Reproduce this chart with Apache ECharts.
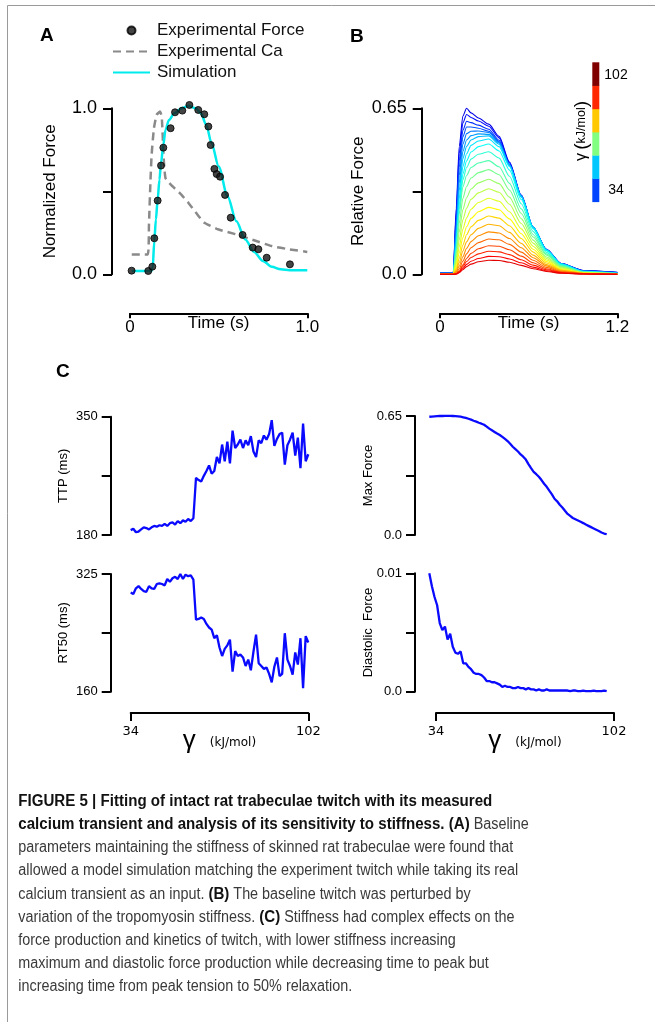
<!DOCTYPE html>
<html><head><meta charset="utf-8">
<script src="https://cdn.jsdelivr.net/npm/echarts@6/dist/echarts.min.js"></script>
<style>html,body{margin:0;padding:0;background:#fff}#c{width:655px;height:1022px}</style>
</head><body><div id="c"></div>
<script>
// ---------- Panel A data ----------
const forceT = [0.009,0.103,0.126,0.137,0.156,0.175,0.188,0.229,0.254,0.295,0.335,0.385,0.419,0.442,0.455,0.476,0.489,0.508,0.536,0.568,0.635,0.692,0.724,0.771,0.902];
const forceV = [0.022,0.02,0.046,0.217,0.444,0.655,0.763,0.88,0.976,0.986,1.02,0.99,0.964,0.89,0.779,0.635,0.604,0.588,0.478,0.341,0.237,0.161,0.151,0.1,0.06];
const caT = [0.01,0.1,0.107,0.115,0.122,0.135,0.15,0.169,0.179,0.19,0.2,0.23,0.28,0.33,0.38,0.42,0.5,0.6,0.7,0.8,0.9,1.0];
const caV = [0.12,0.12,0.3,0.55,0.72,0.88,0.96,0.98,0.95,0.7,0.58,0.54,0.49,0.43,0.36,0.31,0.27,0.24,0.205,0.17,0.15,0.135];
const simT = [0.01,0.12,0.128,0.137,0.146,0.156,0.166,0.175,0.188,0.2,0.22,0.25,0.29,0.33,0.37,0.4,0.43,0.46,0.5,0.55,0.6,0.65,0.7,0.75,0.8,0.85,0.9,1.0];
const simV = [0.02,0.02,0.04,0.2,0.33,0.45,0.57,0.67,0.78,0.87,0.93,0.97,1.0,1.015,1.0,0.97,0.9,0.79,0.65,0.47,0.32,0.21,0.135,0.08,0.045,0.03,0.025,0.025];

// ---------- Panel B data ----------
const bTime = [0,0.09,0.11,0.13,0.155,0.18,0.21,0.26,0.33,0.4,0.47,0.55,0.63,0.72,0.82,0.97,1.2];
const bGamma = [34,37,40,43,46,49,52,55,58,61,64,67,70,73,76,79,82,85,88,91,94,97,100,102];
const b34 = [0.007,0.008,0.26,0.50,0.62,0.650,0.632,0.612,0.588,0.540,0.440,0.310,0.185,0.098,0.042,0.015,0.008];
const b37 = [0.0065,0.007,0.242,0.473,0.593,0.626,0.614,0.600,0.580,0.534,0.437,0.309,0.185,0.098,0.042,0.015,0.007];
const b40 = [0.006,0.0064,0.223,0.444,0.564,0.599,0.594,0.584,0.568,0.525,0.432,0.306,0.183,0.097,0.041,0.014,0.007];
const b43 = [0.005,0.006,0.206,0.419,0.539,0.577,0.577,0.572,0.560,0.520,0.428,0.304,0.183,0.096,0.041,0.013,0.006];
const b46 = [0.005,0.005,0.184,0.387,0.510,0.551,0.560,0.561,0.555,0.517,0.428,0.305,0.184,0.096,0.041,0.013,0.005];
const b49 = [0.004,0.004,0.163,0.357,0.481,0.526,0.543,0.550,0.548,0.514,0.428,0.306,0.185,0.096,0.040,0.012,0.005];
const b52 = [0.003,0.003,0.143,0.327,0.453,0.501,0.526,0.539,0.542,0.509,0.427,0.306,0.185,0.096,0.041,0.012,0.004];
const b55 = [0.0025,0.0026,0.123,0.296,0.422,0.472,0.505,0.522,0.530,0.500,0.422,0.302,0.184,0.095,0.040,0.011,0.004];
const b58 = [0.002,0.002,0.107,0.270,0.393,0.444,0.479,0.500,0.510,0.483,0.408,0.293,0.179,0.092,0.038,0.010,0.003];
const b61 = [0.002,0.002,0.101,0.254,0.370,0.418,0.451,0.470,0.480,0.455,0.384,0.276,0.168,0.086,0.036,0.010,0.003];
const b64 = [0.002,0.002,0.093,0.236,0.343,0.387,0.418,0.436,0.445,0.421,0.356,0.256,0.156,0.080,0.033,0.009,0.003];
const b67 = [0.0015,0.0015,0.078,0.200,0.298,0.344,0.377,0.398,0.410,0.390,0.330,0.238,0.146,0.075,0.031,0.008,0.002];
const b70 = [0.001,0.001,0.064,0.166,0.254,0.300,0.334,0.358,0.372,0.355,0.302,0.218,0.134,0.068,0.028,0.007,0.002];
const b73 = [0.001,0.001,0.051,0.135,0.214,0.259,0.294,0.319,0.335,0.321,0.274,0.199,0.122,0.062,0.025,0.006,0.001];
const b76 = [0.001,0.001,0.040,0.108,0.177,0.221,0.255,0.281,0.298,0.286,0.245,0.178,0.110,0.056,0.022,0.006,0.001];
const b79 = [0.0005,0.0005,0.030,0.084,0.144,0.186,0.219,0.245,0.262,0.253,0.217,0.159,0.098,0.050,0.019,0.005,0.001];
const b82 = [0.0004,0.0004,0.022,0.063,0.115,0.155,0.186,0.211,0.228,0.220,0.190,0.140,0.087,0.044,0.017,0.004,0.0005];
const b85 = [0.0002,0.0002,0.015,0.046,0.091,0.127,0.155,0.180,0.196,0.190,0.164,0.121,0.075,0.038,0.015,0.004,0.0004];
const b88 = [0,0,0.010,0.032,0.069,0.102,0.128,0.151,0.166,0.162,0.140,0.104,0.065,0.033,0.012,0.003,0];
const b91 = [0,0,0.005,0.021,0.052,0.080,0.104,0.124,0.138,0.135,0.117,0.087,0.055,0.027,0.010,0.002,0];
const b94 = [0,0,0.002,0.012,0.037,0.062,0.082,0.100,0.112,0.110,0.096,0.071,0.045,0.022,0.008,0.002,0];
const b97 = [0,0,0.002,0.010,0.030,0.050,0.066,0.080,0.090,0.088,0.077,0.057,0.036,0.018,0.007,0.002,0];
const b100 = [0,0,0.001,0.008,0.023,0.039,0.051,0.062,0.070,0.069,0.060,0.045,0.028,0.014,0.005,0.001,0];
const b102 = [0,0,0.001,0.006,0.018,0.030,0.040,0.049,0.055,0.054,0.047,0.035,0.022,0.011,0.004,0.001,0];
const bCurves = [b34,b37,b40,b43,b46,b49,b52,b55,b58,b61,b64,b67,b70,b73,b76,b79,b82,b85,b88,b91,b94,b97,b100,b102];

// ---------- Panel C data ----------
const gamma = [34,35,36,37,38,39,40,41,42,43,44,45,46,47,48,49,50,51,52,53,54,55,56,57,58,59,60,61,62,63,64,65,66,67,68,69,70,71,72,73,74,75,76,77,78,79,80,81,82,83,84,85,86,87,88,89,90,91,92,93,94,95,96,97,98,99,100,101,102];
const ttp = [187,189,184,185,188,191,190,188,191,193,192,194,193,196,193,197,198,195,200,197,201,199,203,200,204,262,259,257,265,272,280,268,272,292,283,310,286,314,283,330,305,310,317,305,316,309,322,300,292,316,312,323,317,325,345,308,318,325,327,281,309,317,327,294,320,276,340,286,296];
const rt50 = [299,297,305,308,304,301,300,308,305,304,311,312,311,309,318,314,319,321,318,325,318,324,322,323,317,261,262,264,262,255,250,247,235,239,222,210,220,225,233,188,217,210,212,208,196,205,190,216,240,200,196,192,194,185,173,195,208,182,185,242,205,196,184,215,198,235,165,238,229];
const maxForce = [0.646,0.647,0.648,0.649,0.650,0.650,0.651,0.651,0.651,0.650,0.649,0.648,0.646,0.643,0.640,0.635,0.630,0.624,0.619,0.613,0.608,0.602,0.592,0.581,0.572,0.563,0.554,0.546,0.536,0.525,0.513,0.498,0.482,0.469,0.456,0.440,0.428,0.412,0.387,0.365,0.345,0.332,0.318,0.300,0.280,0.263,0.242,0.222,0.198,0.184,0.165,0.150,0.132,0.115,0.104,0.093,0.086,0.079,0.072,0.065,0.057,0.050,0.043,0.036,0.029,0.022,0.014,0.008,0.004];
const diastolic = [0.0100,0.0089,0.0080,0.0073,0.0058,0.0052,0.0055,0.0044,0.0049,0.0038,0.0033,0.0032,0.0034,0.0024,0.0024,0.0021,0.0019,0.0016,0.0015,0.0015,0.0014,0.0012,0.0009,0.0009,0.0008,0.0008,0.0007,0.0006,0.0004,0.0005,0.0004,0.0004,0.0003,0.0003,0.0004,0.0003,0.0003,0.0002,0.0003,0.0002,0.0002,0.0001,0.0002,0.0001,0.0001,0.0002,0.0001,0.0001,0.0001,0.0001,0.0001,0.0001,0.0001,0.0001,0.00005,0.0001,0.0001,0.00005,0.00005,0.0001,0.00005,0.00005,0.00005,0.0001,0.00005,0.00005,0.00005,0.0001,0.00005];

// ---------- labels ----------
const colorbarColors = ['#0044ff','#00c8ff','#80ff80','#ffc800','#ff2800','#800000']; // bottom -> top
const captionLines = [
  [['b','FIGURE 5 | Fitting of intact rat trabeculae twitch with its measured']],
  [['b','calcium transient and analysis of its sensitivity to stiffness. (A)'],['n',' Baseline']],
  [['n','parameters maintaining the stiffness of skinned rat trabeculae were found that']],
  [['n','allowed a model simulation matching the experiment twitch while taking its real']],
  [['n','calcium transient as an input. '],['b','(B)'],['n',' The baseline twitch was perturbed by']],
  [['n','variation of the tropomyosin stiffness. '],['b','(C)'],['n',' Stiffness had complex effects on the']],
  [['n','force production and kinetics of twitch, with lower stiffness increasing']],
  [['n','maximum and diastolic force production while decreasing time to peak but']],
  [['n','increasing time from peak tension to 50% relaxation.']]
];

// ---------- build ----------
const FONT = '"Liberation Sans", Arial, Helvetica, sans-serif';
const DV = '"DejaVu Sans", sans-serif';
const zip = (a, b) => a.map((v, i) => [v, b[i]]);
function jet(x) {
  const c = v => Math.round(255 * Math.max(0, Math.min(1, v)));
  return 'rgb(' + c(1.5 - Math.abs(4 * x - 3)) + ',' + c(1.5 - Math.abs(4 * x - 2)) + ',' + c(1.5 - Math.abs(4 * x - 1)) + ')';
}
const lab = map => v => { const k = +(+v).toFixed(6); return map[k] !== undefined ? map[k] : ''; };
const axLine = {show: true, onZero: false, lineStyle: {color: '#000', width: 2}};
const tick = len => ({show: true, length: len, lineStyle: {color: '#000', width: 2}});

const grids = [
  {left: 130, top: 108.3, width: 177.3, height: 166},
  {left: 440, top: 108.3, width: 177.3, height: 166},
  {left: 130.7, top: 416.7, width: 177.6, height: 118.3},
  {left: 429.3, top: 416, width: 177.4, height: 119},
  {left: 130.7, top: 574, width: 177.6, height: 117.7},
  {left: 429.3, top: 573.3, width: 177.4, height: 118.4},
  {left: 436, top: 573.3, width: 178, height: 118.4}
].map(g => Object.assign({containLabel: false, outerBoundsMode: 'none'}, g));

function xTimeAxis(gi, max, labels) {
  return {gridIndex: gi, type: 'value', min: 0, max: max, interval: max, offset: 39,
    axisLine: axLine, axisTick: tick(5),
    axisLabel: {margin: 6, fontSize: 17, fontFamily: FONT, color: '#000', formatter: lab(labels), showMinLabel: true, showMaxLabel: true},
    splitLine: {show: false},
    name: 'Time (s)', nameLocation: 'middle', nameGap: 2, nameMoveOverlap: false,
    nameTextStyle: {fontSize: 17, fontFamily: FONT, color: '#000'}};
}
function xGammaAxis(gi) {
  return {gridIndex: gi, type: 'value', min: 34, max: 102, interval: 68, offset: 21.3,
    axisLine: axLine, axisTick: tick(8),
    axisLabel: {margin: 12, fontSize: 13, fontFamily: DV, color: '#000', formatter: lab({34: '34', 102: '102'}), showMinLabel: true, showMaxLabel: true},
    splitLine: {show: false},
    name: '{g|γ}{u|(kJ/mol)}', nameLocation: 'middle', nameGap: 15, nameMoveOverlap: false,
    nameTextStyle: {rich: {g: {fontSize: 26, fontFamily: FONT, color: '#000'}, u: {fontSize: 12, fontFamily: DV, color: '#000', padding: [4, 0, 0, 14]}}}};
}
function hiddenX(gi) { return {gridIndex: gi, type: 'value', min: 34, max: 102, show: false, axisLine: {show: false, onZero: false}, splitLine: {show: false}}; }
function yAx(gi, min, max, interval, offset, labels, name, gap, fs, nfs, margin) {
  return {gridIndex: gi, type: 'value', min: min, max: max, interval: interval, offset: offset,
    axisLine: axLine, axisTick: tick(9),
    axisLabel: {margin: margin, fontSize: fs, fontFamily: FONT, color: '#000', formatter: lab(labels), showMinLabel: true, showMaxLabel: true},
    splitLine: {show: false},
    name: name, nameLocation: 'middle', nameRotate: 90, nameGap: gap, nameMoveOverlap: false,
    nameTextStyle: {fontSize: nfs, fontFamily: FONT, color: '#000'}};
}

const series = [];
series.push({type: 'line', name: 'Experimental Ca', xAxisIndex: 0, yAxisIndex: 0, data: zip(caT, caV), symbol: 'none', smooth: 0.15, clip: false,
  lineStyle: {color: '#8a8a8a', width: 2.5, type: [8, 5]}, itemStyle: {color: '#8a8a8a'}, z: 2});
series.push({type: 'line', name: 'Simulation', xAxisIndex: 0, yAxisIndex: 0, data: zip(simT, simV), symbol: 'none', smooth: 0.3, smoothMonotone: 'x', clip: false,
  lineStyle: {color: '#00ebeb', width: 2.5}, itemStyle: {color: '#00ebeb'}, z: 3});
series.push({type: 'scatter', name: 'Experimental Force', xAxisIndex: 0, yAxisIndex: 0, data: zip(forceT, forceV), symbol: 'circle', symbolSize: 7, clip: false,
  itemStyle: {color: '#151515', borderColor: '#000', borderWidth: 1}, z: 4});

bCurves.forEach((curve, i) => {
  const col = jet(0.1 + 0.8 * (bGamma[i] - 34) / 68);
  series.push({type: 'line', name: 'γ=' + bGamma[i], xAxisIndex: 1, yAxisIndex: 1, data: zip(bTime, curve), symbol: 'none',
    smooth: 0.25, smoothMonotone: 'x', clip: false, lineStyle: {color: col, width: 1.1}, itemStyle: {color: col}, z: 2});
});

const cLine = (xi, yi, vals, name) => ({type: 'line', name: name, xAxisIndex: xi, yAxisIndex: yi, data: zip(gamma, vals), symbol: 'none', clip: false,
  lineStyle: {color: '#0a0aff', width: 2.3}, itemStyle: {color: '#0a0aff'}});
series.push(cLine(2, 2, ttp, 'TTP'));
series.push(cLine(3, 3, maxForce, 'Max Force'));
series.push(cLine(4, 4, rt50, 'RT50'));
series.push(cLine(5, 5, diastolic, 'Diastolic Force'));

// graphics
const graphic = [];
graphic.push({type: 'line', shape: {x1: 7.5, y1: 5.5, x2: 655, y2: 5.5}, style: {stroke: '#9a9a9a', lineWidth: 1}, silent: true});
graphic.push({type: 'line', shape: {x1: 7.5, y1: 5.5, x2: 7.5, y2: 1022}, style: {stroke: '#9a9a9a', lineWidth: 1}, silent: true});
const panelLabel = (t, x, y) => ({type: 'text', x: x, y: y, silent: true,
  style: {text: t, fontSize: 19, fontWeight: 'bold', fontFamily: FONT, fill: '#000', align: 'left', verticalAlign: 'middle', textAlign: 'left', textVerticalAlign: 'middle'}});
graphic.push(panelLabel('A', 40, 35.5));
graphic.push(panelLabel('B', 350, 37));
graphic.push(panelLabel('C', 56, 372));

// colorbar
const cbTop = 62.3, cbBot = 201.7, cbH = (cbBot - cbTop) / colorbarColors.length;
colorbarColors.forEach((c, i) => {
  graphic.push({type: 'rect', silent: true, shape: {x: 592.3, y: cbBot - (i + 1) * cbH, width: 7, height: cbH + 0.4}, style: {fill: c}});
});
const cbText = (t, y) => ({type: 'text', x: 616, y: y, silent: true,
  style: {text: t, fontSize: 14, fontFamily: FONT, fill: '#000', align: 'center', verticalAlign: 'middle', textAlign: 'center', textVerticalAlign: 'middle'}});
graphic.push(cbText('102', 75));
graphic.push(cbText('34', 190));
graphic.push({type: 'text', x: 581.5, y: 131, rotation: Math.PI / 2, silent: true,
  style: {text: '{g|γ} {p|(}{u|kJ/mol}{p|)}', align: 'center', verticalAlign: 'middle', textAlign: 'center', textVerticalAlign: 'middle',
    rich: {g: {fontSize: 16, fontFamily: FONT, fill: '#000'}, p: {fontSize: 19, fontFamily: FONT, fill: '#000'}, u: {fontSize: 12.5, fontFamily: FONT, fill: '#000'}}}});

// caption: separate scale for regular and bold runs, fitted to the reference line widths
const cv = document.createElement('canvas').getContext('2d');
const fontN = '16px "Liberation Sans"', fontB = 'bold 16px "Liberation Sans"';
cv.font = fontN; const scaleN = 500 / cv.measureText(captionLines[3][0][1]).width;
cv.font = fontB; const scaleB = 474 / cv.measureText(captionLines[0][0][1]).width;
captionLines.forEach((segs, i) => {
  let x = 18.3;
  const y = 801.7 + i * 23.1;
  segs.forEach(([kind, text]) => {
    const bold = kind === 'b';
    cv.font = bold ? fontB : fontN;
    const sc = bold ? scaleB : scaleN;
    graphic.push({type: 'text', x: x, y: y, scaleX: sc, silent: true,
      style: {text: text, fontSize: 16, fontFamily: FONT, fontWeight: bold ? 'bold' : 'normal', fill: bold ? '#111' : '#3a3a3a',
        align: 'left', textAlign: 'left', verticalAlign: 'middle', textVerticalAlign: 'middle'}});
    x += cv.measureText(text).width * sc;
  });
});

const option = {
  animation: false,
  backgroundColor: '#fff',
  grid: grids,
  legend: {orient: 'vertical', left: 112, top: 22, padding: 0, itemWidth: 37, itemHeight: 8, itemGap: 4, selectedMode: false,
    textStyle: {fontSize: 17, fontFamily: FONT, color: '#111', padding: [0, 0, 0, 2]},
    data: [{name: 'Experimental Force', icon: 'circle'},
           {name: 'Experimental Ca', itemStyle: {opacity: 0}},
           {name: 'Simulation', itemStyle: {opacity: 0}}]},
  xAxis: [xTimeAxis(0, 1, {0: '0', 1: '1.0'}), xTimeAxis(1, 1.2, {0: '0', 1.2: '1.2'}), hiddenX(2), hiddenX(3), xGammaAxis(4), hiddenX(5), xGammaAxis(6)],
  yAxis: [
    yAx(0, 0, 1, 0.5, 18, {0: '0.0', 1: '1.0'}, 'Normalized Force', 53, 18, 17, 15),
    yAx(1, 0, 0.65, 0.325, 18.3, {0: '0.0', 0.65: '0.65'}, 'Relative Force', 55, 18, 17, 15),
    yAx(2, 180, 350, 85, 20, {180: '180', 350: '350'}, 'TTP (ms)', 41, 13, 13, 13),
    yAx(3, 0, 0.65, 0.325, 14.3, {0: '0.0', 0.65: '0.65'}, 'Max Force', 40.5, 13, 13, 13),
    yAx(4, 160, 325, 82.5, 20, {160: '160', 325: '325'}, 'RT50 (ms)', 41, 13, 13, 13),
    yAx(5, 0, 0.01, 0.005, 14.3, {0: '0.0', 0.01: '0.01'}, 'Diastolic  Force', 40, 13, 13, 13),
    {gridIndex: 6, type: 'value', min: 0, max: 1, show: false, axisLine: {show: false, onZero: false}}
  ],
  series: series,
  graphic: graphic
};
const chart = echarts.init(document.getElementById('c'), null, {renderer: 'canvas', width: 655, height: 1022});
chart.setOption(option);
</script></body></html>
